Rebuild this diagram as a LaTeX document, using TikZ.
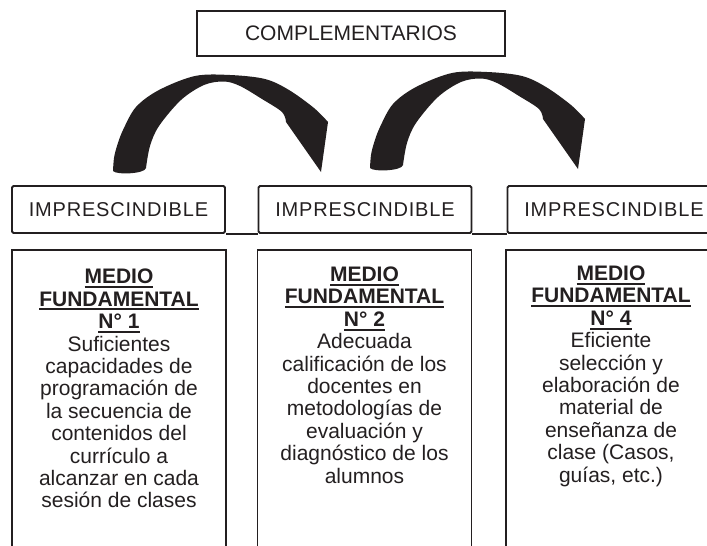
\documentclass[tikz,border=0pt]{standalone}
\usepackage{fontspec}
\setmainfont{Liberation Sans}
\definecolor{ink}{HTML}{231F20}
\newsavebox\ulbox
\newcommand\myul[1]{\sbox\ulbox{#1}\rlap{\rule[-4.2pt]{\wd\ulbox}{2pt}}\usebox\ulbox}
\newcommand\archpath{%
  plot[smooth, tension=0.55] coordinates {(113,171) (114,158) (117,146) (123,130) (136,107) (159,90) (195,76) (230,75) (265,79) (289,90) (314,108) (328,122)}
  -- (321,172)
  -- plot[smooth, tension=0.55] coordinates {(286,122) (282,112) (262,99) (240,86) (224,81.5) (204,85) (181,100) (159,126) (150,146) (146,168)}
  .. controls (145,174) and (116,175) .. (113,171) -- cycle}
\begin{document}
\begin{tikzpicture}[x=1pt, y=-1pt, color=ink, line width=1.8pt,
  topbox/.style={draw, minimum width=308pt, minimum height=45pt, inner sep=0pt,
    font=\fontsize{21}{24}\selectfont},
  impbox/.style={draw, rounded corners=1.5pt, minimum width=213pt, minimum height=47pt, inner sep=0pt,
    font=\fontsize{20}{24}\selectfont\addfontfeatures{LetterSpace=4}},
  bigbox/.style={draw, minimum width=214pt, minimum height=330pt, inner sep=0pt},
  bodytext/.style={anchor=north, align=center, inner sep=0pt,
    font=\fontsize{21}{22.4}\selectfont},
  link/.style={draw, line width=1.8pt}]
\useasboundingbox (0,0) rectangle (707,546);
\clip (0,0) rectangle (707,546);

\node[topbox] (comp) at (351,33.5) {COMPLEMENTARIOS};

\fill \archpath;
\fill[shift={(257,-3)}] \archpath;

\node[impbox] (imp1) at (118.5,209.5) {IMPRESCINDIBLE};
\node[impbox] (imp2) at (365,209.5) {IMPRESCINDIBLE};
\node[impbox] (imp3) at (614,209.5) {IMPRESCINDIBLE};
\draw[link] (imp1.south east) -- (imp2.south west);
\draw[link] (imp2.south east) -- (imp3.south west);

\node[bigbox] (b1) at (119,415) {};
\node[bigbox] (b2) at (364.5,415) {};
\node[bigbox] (b3) at (613,415) {};

\node[bodytext] (t1) at (119,268.3) {\textbf{\myul{MEDIO}}\\\textbf{\myul{FUNDAMENTAL}}\\\textbf{\myul{N° 1}}\\Suficientes\\capacidades de\\programación de\\la secuencia de\\contenidos del\\currículo a\\alcanzar en cada\\sesión de clases};
\node[bodytext] (t2) at (364.5,266) {\textbf{\myul{MEDIO}}\\\textbf{\myul{FUNDAMENTAL}}\\\textbf{\myul{N° 2}}\\Adecuada\\calificación de los\\docentes  en\\metodologías de\\evaluación y\\diagnóstico de los\\alumnos};
\node[bodytext] (t3) at (611,265) {\textbf{\myul{MEDIO}}\\\textbf{\myul{FUNDAMENTAL}}\\\textbf{\myul{N° 4}}\\Eficiente\\selección y\\elaboración de\\material de\\enseñanza de\\clase (Casos,\\guías, etc.)};
\end{tikzpicture}
\end{document}
